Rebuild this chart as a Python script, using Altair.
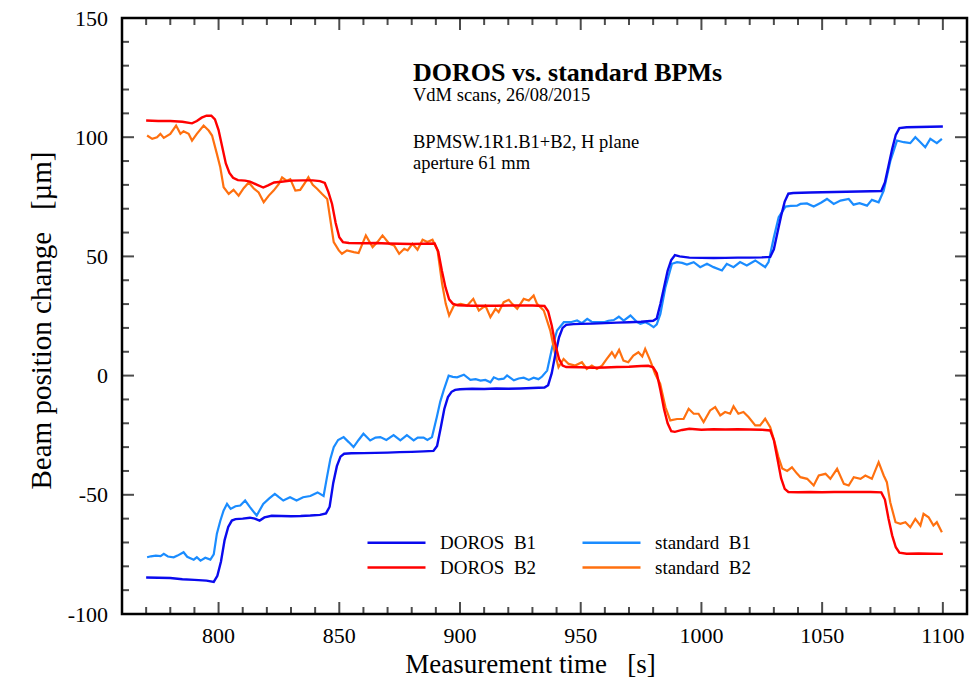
import altair as alt
import pandas as pd

# ---------------- data ----------------
SERIES = ["DOROS\u00a0 B1", "standard\u00a0 B1", "DOROS\u00a0 B2", "standard\u00a0 B2"]
COLORS = ["#0a0aee", "#1a8cff", "#ff0000", "#ff700f"]

doros_b1_t = [770, 775, 780, 785, 790, 795, 798, 799.5, 801, 802.5, 804, 805.5, 807, 810, 813, 815, 817, 819,
              822, 826, 830, 834, 838, 842, 844.5, 846, 847.5, 849, 850.5, 852, 855, 860, 865, 870, 875, 880,
              885, 889, 890.5, 892, 893.5, 895, 896.5, 898, 900, 905, 910, 915, 920, 925, 930, 935, 936.5,
              938, 939.5, 941, 942.5, 944, 947, 950, 955, 960, 965, 970, 975, 980, 981.5, 983, 984.5, 986,
              987.5, 989, 991, 995, 1000, 1005, 1010, 1015, 1020, 1025, 1028.5, 1030, 1031.5, 1033, 1034.5,
              1036, 1038, 1045, 1050, 1055, 1060, 1065, 1070, 1074.5, 1076, 1077.5, 1079, 1080.5, 1082, 1085,
              1090, 1095, 1100]
doros_b1_v = [-84.7, -84.8, -84.9, -85.4, -85.7, -86.0, -86.5, -84, -78, -69, -63.5, -60.8, -60.2, -60.0, -59.6,
              -60.0, -60.8, -59.5, -58.8, -58.9, -59.0, -58.9, -58.7, -58.4, -57.8, -55, -45, -38, -34, -32.8,
              -32.6, -32.5, -32.4, -32.3, -32.1, -32.0, -31.8, -31.6, -29.5, -22, -14, -9, -6.8, -6.0, -5.7,
              -5.5, -5.6, -5.4, -5.5, -5.4, -5.2, -5.0, -4, 1, 9, 16, 20, 21.3, 21.6, 21.7, 21.8, 22.0, 22.2,
              22.4, 22.6, 23.0, 24, 30, 37, 44, 48.5, 50.5, 50.0, 49.5, 49.4, 49.3, 49.4, 49.5, 49.5, 49.6,
              49.8, 53, 60, 67, 73, 76.3, 76.6, 76.8, 76.9, 77.0, 77.1, 77.2, 77.3, 77.4, 81, 88, 95, 101,
              103.8, 104.2, 104.3, 104.4, 104.5]

doros_b2_t = [770, 775, 780, 785, 789, 791, 793, 795, 797, 798.5, 800, 801.5, 803, 804.5, 806, 808, 811, 813,
              816, 818.5, 820.5, 823, 826, 830, 835, 839, 842, 844, 845.5, 847, 848.5, 850, 851.5, 854, 860,
              865, 870, 875, 880, 885, 889.5, 891, 892.5, 894, 895.5, 897, 899, 905, 910, 915, 920, 925, 930,
              935, 936.5, 938, 939.5, 941, 942.5, 944, 950, 955, 960, 965, 970, 975, 978, 980, 981.5, 983,
              984.5, 986, 987.5, 989, 992, 995, 1000, 1005, 1010, 1015, 1020, 1025, 1028.5, 1030, 1031.5,
              1033, 1034.5, 1036, 1040, 1045, 1050, 1055, 1060, 1065, 1070, 1074.5, 1076, 1077.5, 1079,
              1080.5, 1082, 1085, 1090, 1095, 1100]
doros_b2_v = [107.0, 106.8, 106.8, 106.5, 105.8, 106.8, 108.2, 109.0, 109.0, 107.5, 103, 96, 89, 85, 83, 82,
              81.8, 81.4, 80.0, 78.9, 79.8, 81.0, 81.3, 81.8, 81.9, 81.9, 81.6, 80.8, 77, 72, 64, 58, 56, 55.6,
              55.5, 55.6, 55.4, 55.3, 55.2, 55.3, 55.4, 52, 44, 37, 32, 30.2, 29.5, 29.3, 29.3, 29.3, 29.4,
              29.4, 29.4, 29.2, 27, 21, 13, 7, 4.2, 3.6, 3.5, 3.3, 3.4, 3.6, 3.7, 4.0, 4.1, 3.5, 1, -6, -14,
              -20, -23.3, -23.6, -22.8, -22.3, -22.7, -22.5, -22.6, -22.5, -22.6, -22.7, -23.0, -27, -35, -43,
              -47.5, -48.8, -48.9, -48.8, -48.9, -48.8, -48.8, -48.8, -48.8, -49.0, -52, -60, -67, -72, -74.3,
              -74.7, -74.6, -74.7, -74.8]

std_b1_t = [770.4, 772, 774, 776, 777.3, 779, 781.4, 783, 785.5, 787, 789.7, 791, 792.5, 794.5, 796.6, 798,
            799.3, 800.7, 802.1, 803.5, 805, 807, 809, 811, 813, 815.8, 818.5, 821, 823.3, 825, 826.8, 829.6,
            832.3, 835, 838, 841, 843.5, 844.9, 846.3, 847.7, 849.5, 851.8, 854, 855.9, 858, 860, 862.8, 865,
            867, 869.5, 872.5, 875.3, 878, 880.8, 882.5, 884.9, 886.5, 888.4, 890.4, 891.8, 893.2, 895.3, 897,
            898.8, 901.6, 904.3, 906.5, 908.5, 910.5, 912.6, 914, 916, 918.1, 919.5, 922.3, 924.3, 926.4,
            928.5, 930.5, 932.5, 934, 936.1, 938.2, 940.2, 943, 945.8, 948.5, 950.5, 952.7, 954.5, 956.8,
            959.6, 961.5, 963.7, 965.8, 967.8, 970.6, 973.4, 974.7, 976.8, 978.5, 980.2, 981.5, 983, 985.1,
            987.8, 989.9, 992, 994, 996.8, 999.5, 1002.3, 1005, 1008.5, 1010.5, 1013.3, 1016, 1018.8, 1022.3,
            1024.4, 1026.4, 1027.8, 1030, 1032, 1034.8, 1037, 1039.6, 1041, 1043.7, 1046.5, 1049.5, 1052,
            1054.8, 1057.6, 1061, 1063, 1065.5, 1068.6, 1070.6, 1073.4, 1075.5, 1078.3, 1081, 1083.8, 1086.5,
            1088.6, 1090.7, 1092.7, 1094.8, 1097.5, 1099.6]
std_b1_v = [-76.2, -75.8, -75.5, -75.7, -74.8, -75.9, -76.2, -75.5, -74.1, -76, -77.2, -76.2, -77.6, -76.4,
            -77.2, -75, -66.3, -61, -56.6, -53.8, -55.9, -54.8, -54.5, -52.4, -55.2, -58.7, -53.8, -51.5,
            -49.6, -51, -52.4, -51, -52.4, -51, -50.5, -49, -50.5, -42.6, -35, -30, -27, -25.8, -28, -30, -27,
            -24.4, -27.2, -26, -25.8, -27, -25, -27.2, -25, -27.2, -26, -26, -27, -25.8, -17.4, -11, -6.3, 0,
            -0.5, -0.7, 0.4, -1.8, -1.5, -2.1, -1.8, -2.8, -0.7, -1.6, -1.3, 0.1, -2, -1.2, -0.9, -1.8, -0.9,
            -1.5, -0.4, 2.1, 11.9, 18.9, 22.4, 22.4, 23.1, 22.0, 23.8, 22.6, 22.4, 22.4, 23.0, 23.3, 24.7,
            23.1, 25.2, 22.4, 21.7, 22.4, 21.5, 20.3, 21.5, 25.9, 37.1, 46.9, 47.6, 47.3, 46.6, 47.6, 45.5,
            46.9, 45.5, 44.1, 46.9, 45.5, 47.6, 46.2, 48.3, 46.9, 45.5, 47.6, 58, 66.4, 70.9, 71.2, 71.3, 72,
            72.2, 70.9, 72.5, 74.1, 72, 73.4, 74.1, 71.7, 72.3, 71.3, 73.7, 72.7, 77.6, 90.2, 98.6, 97.9,
            97.5, 100, 97.9, 95.8, 99.3, 97.5, 99.3]

std_b2_t = [770.4, 772.5, 774.5, 775.9, 777.3, 780, 782.4, 784.2, 785.5, 787.6, 789, 791, 793.8, 795.9, 797.3,
            799.3, 800.7, 802.1, 804.2, 806.2, 808.3, 810.4, 812.5, 814.5, 816.6, 818.7, 820.8, 822.8, 824.9,
            826.3, 828.3, 829.7, 831.8, 833.8, 835.9, 837.2, 839, 840.8, 842.9, 845, 846.5, 847.7, 849.8,
            851.1, 853.2, 856, 858, 861, 863.8, 865.8, 867.9, 870.7, 872.7, 874.8, 876.9, 878.3, 880.3,
            882.4, 884.5, 886.5, 888.6, 890.7, 892.6, 894.1, 895.5, 897.5, 900.3, 903, 905.5, 907.8, 910.5,
            912.6, 914.7, 916, 918.1, 920.2, 921.6, 923.7, 926.4, 928.5, 930.5, 931.9, 934.7, 937.4, 939.4,
            940.8, 942.9, 945, 947.7, 950.5, 952.5, 954.6, 956.7, 958.8, 960.8, 962.9, 964.2, 965.9, 967.7,
            969.7, 971.8, 973.9, 975.5, 976.7, 978.8, 980.8, 982.9, 985.1, 987.1, 989.9, 992.6, 994.7, 996.8,
            998.8, 1000.9, 1003.6, 1005.7, 1007.8, 1009.8, 1011.9, 1013.3, 1015.3, 1017.4, 1019.5, 1022.3,
            1024.3, 1026.4, 1028.5, 1030.5, 1031.9, 1033.5, 1035.5, 1037.5, 1039.5, 1041, 1043.8, 1046.5,
            1048.6, 1051.4, 1053.4, 1056.2, 1059, 1061, 1063.1, 1065.9, 1067.9, 1070.6, 1073.4, 1075.5,
            1076.8, 1078.2, 1080.4, 1082.4, 1084.5, 1086.5, 1088.6, 1090.7, 1092, 1094.1, 1096.1, 1097.5,
            1099.6]
std_b2_v = [100.7, 99.3, 100, 101.4, 99.7, 101.4, 104.9, 101.4, 102.5, 101.4, 98.6, 101.4, 104.9, 102.8, 100.7,
            93, 87.4, 79, 76.2, 77.9, 75.5, 78.6, 81, 78.6, 76.8, 72.7, 75.5, 77.6, 80.3, 83.1, 81.7, 82.4,
            77.6, 77.9, 81, 83.2, 80, 78.4, 76.2, 74.1, 64, 56, 52.5, 51.1, 52.5, 51.8, 51.4, 58.8, 53.9, 56,
            58.8, 55.3, 54.6, 51.1, 53.2, 52.5, 55.3, 52.8, 57, 56, 57, 52.5, 38.5, 30.1, 25.2, 29.4, 30.1,
            29.4, 32.2, 27.3, 29.4, 24.5, 28, 26.6, 30.8, 31.8, 30.1, 28, 32.2, 31.5, 33.6, 30.1, 27.3, 18.9,
            9.1, 3.5, 7, 4.9, 4.2, 5.6, 2.8, 4.2, 2.8, 4.2, 7, 9.8, 7.7, 10.8, 6.3, 5.6, 8.4, 9.8, 8, 11.2, 6.3,
            0.8, -3.4, -13.3, -18.8, -18.2, -18.2, -13.9, -16, -16, -19.5, -14.6, -13.2, -16.7, -15.3, -16,
            -12.9, -16, -15.3, -17.4, -20.9, -20.9, -18.1, -21.6, -28.6, -34.2, -39, -40, -38.5, -41, -42.6,
            -43.3, -46.1, -41.9, -41.2, -43.3, -39.1, -45.4, -46.1, -42.6, -43.3, -41.9, -43.3, -36.3, -41.9,
            -44.7, -53.1, -61.5, -62.2, -61.5, -63.6, -60.1, -62.9, -58, -59.4, -62.9, -61.5, -65.7]

X_LABELS = [800, 850, 900, 950, 1000, 1050, 1100]
Y_LABELS = [-100, -50, 0, 50, 100, 150]
X_MAJOR = [800, 850, 900, 950, 1000, 1050, 1100]
X_MINOR = [t for t in range(770, 1110, 10) if t % 50 != 0]
Y_MAJOR = [-50, 0, 50, 100]
Y_MINOR = [v for v in range(-90, 150, 10) if v % 50 != 0]

TITLE = "DOROS vs. standard BPMs"
SUB1 = "VdM scans, 26/08/2015"
SUB2 = "BPMSW.1R1.B1+B2, H plane"
SUB3 = "aperture 61 mm"

# ---------------- build tables ----------------
def table(name, ts, vs):
    return pd.DataFrame({"series": name, "t": ts, "v": vs, "i": range(len(ts))})

df_doros = pd.concat([table(SERIES[0], doros_b1_t, doros_b1_v), table(SERIES[2], doros_b2_t, doros_b2_v)])
df_std = pd.concat([table(SERIES[1], std_b1_t, std_b1_v), table(SERIES[3], std_b2_t, std_b2_v)])

W, H = 845, 596
FONT = "Liberation Serif"

xscale = alt.Scale(domain=[760, 1110], nice=False, zero=False)
yscale = alt.Scale(domain=[-100, 150], nice=False, zero=False)

x_axis = alt.Axis(values=X_LABELS, ticks=False, domain=False, grid=False, labels=False,
                  title="Measurement time\u00a0\u00a0 [s]", titleFont=FONT, titleFontSize=27,
                  titleFontWeight="normal", titleColor="black", titleX=408, titleY=58,
                  titleBaseline="alphabetic", titleAlign="center")
y_axis = alt.Axis(values=Y_LABELS, ticks=False, domain=False, grid=False, labels=False,
                  title="Beam position change\u00a0\u00a0 [\u00b5m]", titleFont=FONT, titleFontSize=29,
                  titleFontWeight="normal", titleColor="black", titleX=-72, titleY=302,
                  titleBaseline="alphabetic", titleAlign="center", titleAngle=270)

X = alt.X("t:Q", scale=xscale, axis=x_axis)
Y = alt.Y("v:Q", scale=yscale, axis=y_axis)

color = alt.Color("series:N", scale=alt.Scale(domain=SERIES, range=COLORS), sort=SERIES,
                  legend=alt.Legend(title=None, orient="none", legendX=244, legendY=515, columns=2,
                                    direction="horizontal",
                                    symbolType="stroke", symbolSize=3364, symbolStrokeWidth=2.6,
                                    labelFont=FONT, labelFontSize=19, labelColor="black", labelOffset=13,
                                    columnPadding=44, rowPadding=5, clipHeight=19, padding=0,
                                    labelLimit=300))

std_lines = alt.Chart(df_std).mark_line(strokeWidth=2.2).encode(x=X, y=Y, color=color, order="i:Q")
doros_lines = alt.Chart(df_doros).mark_line(strokeWidth=2.4).encode(x=X, y=Y, color=color, order="i:Q")

def xticks(vals, size, ypix):
    return alt.Chart(pd.DataFrame({"t": vals})).mark_tick(orient="vertical", size=size, thickness=2,
                                                           color="black").encode(x=X, y=alt.value(ypix))

def yticks(vals, size, xpix):
    return alt.Chart(pd.DataFrame({"v": vals})).mark_tick(orient="horizontal", size=size, thickness=2,
                                                           color="black").encode(y=Y, x=alt.value(xpix))

ticks = [
    xticks(X_MAJOR, 12, H - 6), xticks(X_MINOR, 7, H - 3.5),
    xticks(X_MAJOR, 12, 6), xticks(X_MINOR, 7, 3.5),
    yticks(Y_MAJOR, 12, 6), yticks(Y_MINOR, 7, 3.5),
    yticks(Y_MAJOR, 12, W - 6), yticks(Y_MINOR, 7, W - 3.5),
]

# tick labels drawn as text through the same scales (serif, hyphen minus)
x_labels = alt.Chart(pd.DataFrame({"t": X_LABELS, "lab": [str(v) for v in X_LABELS]})).mark_text(
    font=FONT, fontSize=22, color="black", align="center", baseline="alphabetic"
).encode(x=X, y=alt.value(H + 29), text="lab:N")
y_labels = alt.Chart(pd.DataFrame({"v": Y_LABELS, "lab": [str(v) for v in Y_LABELS]})).mark_text(
    font=FONT, fontSize=22, color="black", align="right", baseline="alphabetic", dy=7.5
).encode(y=Y, x=alt.value(-14), text="lab:N")

def note(text, x, y, size, weight="normal"):
    return alt.Chart(pd.DataFrame({"label": [text]})).mark_text(
        align="left", baseline="alphabetic", font=FONT, fontSize=size, fontWeight=weight, color="black"
    ).encode(x=alt.value(x), y=alt.value(y), text="label:N")

notes = [
    note(TITLE, 291, 62.5, 26, "bold"),
    note(SUB1, 291, 83, 18.5),
    note(SUB2, 291, 130, 18.5),
    note(SUB3, 291, 150.5, 18.5),
]

chart = alt.layer(std_lines, doros_lines, *ticks, x_labels, y_labels, *notes).properties(
    width=W, height=H,
    padding={"left": 122, "top": 18, "right": 11, "bottom": 70},
    autosize=alt.AutoSizeParams(type="none"),
    background="white",
).configure_view(stroke="black", strokeWidth=2.5)

chart.save("out.html", embed_options={"renderer": "svg", "actions": False})
